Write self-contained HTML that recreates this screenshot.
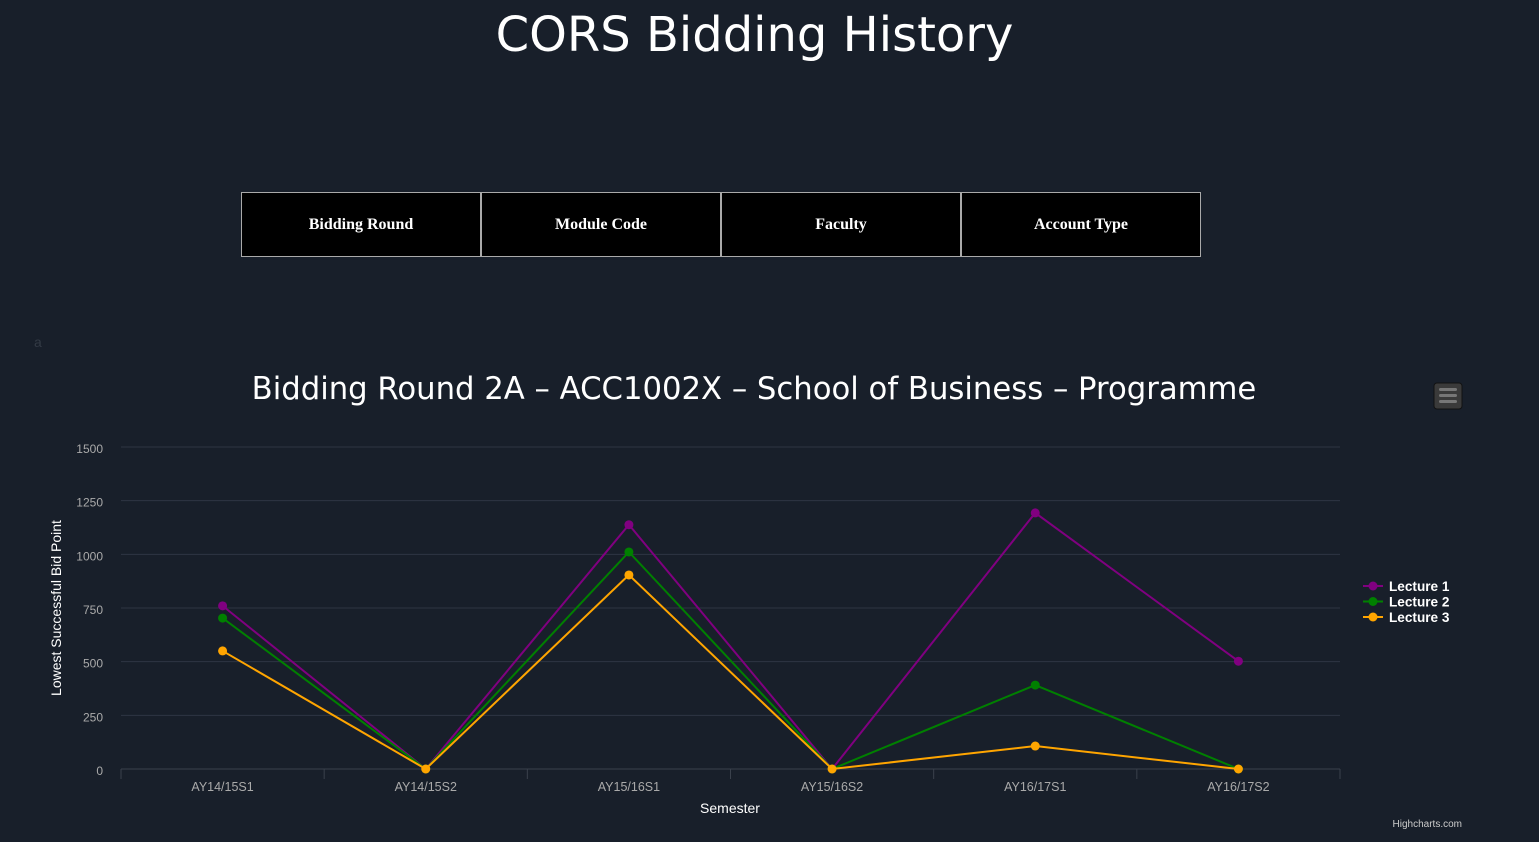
<!DOCTYPE html>
<html><head><meta charset="utf-8"><style>
body{margin:0;width:1539px;height:842px;background:#181f2a;overflow:hidden;font-family:"Liberation Sans",sans-serif;position:relative}
h1{position:absolute;top:7px;left:0;width:1509px;text-align:center;margin:0;color:#fff;font-family:"DejaVu Sans",sans-serif;font-weight:normal;font-size:48px}
.tabs{position:absolute;left:241px;top:192px;display:flex}
.tab{width:238px;height:63px;background:#000;border:1px solid #aaa;color:#fff;font-family:"Liberation Serif",serif;font-weight:bold;font-size:16px;display:flex;align-items:center;justify-content:center;margin-right:0}
svg{position:absolute;left:0;top:0}
</style></head><body>
<h1>CORS Bidding History</h1>
<div class="tabs">
<div class="tab">Bidding Round</div>
<div class="tab">Module Code</div>
<div class="tab">Faculty</div>
<div class="tab">Account Type</div>
</div>
<svg id="chart" width="1539" height="842">
<text x="34" y="347" fill="#333a45" font-size="14">a</text>
<text x="754" y="399" fill="#fff" text-anchor="middle" font-family="DejaVu Sans, sans-serif" font-size="30.7">Bidding Round 2A – ACC1002X – School of Business – Programme</text>
<g><rect x="1434" y="383" width="28" height="26" rx="3" fill="#3a3a3a" stroke="#111" stroke-width="1"/><rect x="1439" y="388" width="18" height="3" rx="1.5" fill="#777"/><rect x="1439" y="394" width="18" height="3" rx="1.5" fill="#777"/><rect x="1439" y="400" width="18" height="3" rx="1.5" fill="#777"/></g>
<text x="61" y="608" fill="#fff" font-size="14" text-anchor="middle" transform="rotate(-90 61 608)">Lowest Successful Bid Point</text>
<text x="730" y="813" fill="#fff" font-size="14" text-anchor="middle">Semester</text>
<text x="1462" y="827" fill="#ccc" font-size="10" text-anchor="end">Highcharts.com</text>
<g id="plot"></g>
</svg>
<script>
const categories=["AY14/15S1","AY14/15S2","AY15/16S1","AY15/16S2","AY16/17S1","AY16/17S2"];
const yTicks=[0,250,500,750,1000,1250,1500];
const lecture1=[760,0,1138,0,1193,502];
const lecture2=[703,0,1011,0,391,0];
const lecture3=[550,0,904,0,107,0];
const seriesNames=["Lecture 1","Lecture 2","Lecture 3"];
const seriesColors=["#800080","#008000","#ffa500"];
const NS="http://www.w3.org/2000/svg";
const g=document.getElementById('plot');
const X0=121,X1=1340,Y0=769,Y1=447;
const bw=(X1-X0)/categories.length;
const xs=i=>X0+bw*(i+0.5);
const ys=v=>Y0-(v/1500)*(Y0-Y1);
function mk(t,a){const e=document.createElementNS(NS,t);for(const k in a)e.setAttribute(k,a[k]);g.appendChild(e);return e;}
yTicks.forEach(v=>{
 if(v>0){const l=mk('line',{x1:X0,x2:X1,y1:ys(v),y2:ys(v),stroke:'#2e3643','stroke-width':1});
 
 }
 const t=mk('text',{x:103,y:ys(v)+6,fill:'#aaa','font-size':12,'text-anchor':'end'});t.textContent=v;
 
 
});
const ax=mk('line',{x1:X0,x2:X1,y1:Y0,y2:Y0,stroke:'#3a414c','stroke-width':1});


for(let i=0;i<=categories.length;i++){const tk=mk('line',{x1:X0+bw*i,x2:X0+bw*i,y1:Y0,y2:Y0+10,stroke:'#3a414c'});
 
 }
categories.forEach((c,i)=>{const t=mk('text',{x:xs(i),y:791,fill:'#aaa','font-size':12.5,'text-anchor':'middle'});t.textContent=c;
 
 });
[lecture1,lecture2,lecture3].forEach((d,s)=>{
 const p=mk('polyline',{points:d.map((v,i)=>xs(i)+','+ys(v)).join(' '),fill:'none',stroke:seriesColors[s],'stroke-width':2});
 
 
 d.forEach((v,i)=>{const c=mk('circle',{cx:xs(i),cy:ys(v),r:4.5,fill:seriesColors[s]});
 
 });
 const ly=586+s*15.5;
 const ll=mk('line',{x1:1363,x2:1383,y1:ly,y2:ly,stroke:seriesColors[s],'stroke-width':2});
 
 
 const lc=mk('circle',{cx:1373,cy:ly,r:4.5,fill:seriesColors[s]});
 
 
 const lt=mk('text',{x:1389,y:ly+5,fill:'#fff','font-size':13.6,'font-weight':'bold'});lt.textContent=seriesNames[s];
 
 
});
</script>
</body></html>
